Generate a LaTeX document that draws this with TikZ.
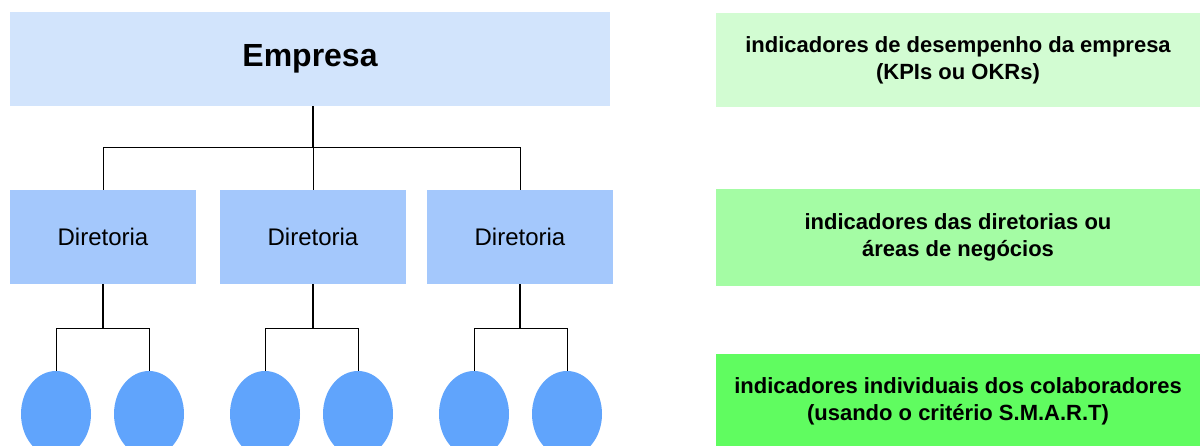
\documentclass[tikz,border=0pt]{standalone}
\usepackage{fontspec}
\setmainfont{Liberation Sans}
\usetikzlibrary{shapes.geometric}

\definecolor{empblue}{HTML}{D2E4FC}
\definecolor{dirblue}{HTML}{A4C8FC}
\definecolor{colblue}{HTML}{60A4FC}
\definecolor{kpigreen}{HTML}{D2FCD2}
\definecolor{dirgreen}{HTML}{A4FCA4}
\definecolor{colgreen}{HTML}{60FC60}

\tikzset{
  orgbox/.style={rectangle, draw=none, inner sep=0pt, minimum height=94pt},
  colab/.style={ellipse, fill=colblue, draw=none, minimum width=70pt, minimum height=86pt},
  indbox/.style={rectangle, draw=none, inner sep=0pt, minimum width=484pt,
    align=center, font=\fontsize{22}{27}\selectfont\bfseries},
  link/.style={draw=black, line width=1pt}
}

\begin{document}
\begin{tikzpicture}[x=1pt,y=-1pt]

  \clip (0,0) rectangle (1200,445);
  \fill[white] (0,0) rectangle (1200,445);

%%%%%%%%%%%%%%%%%%%%%%%%%%%%%%%%%%%%%%%%%%
  % Company and board levels
  \node[orgbox, fill=empblue, minimum width=600pt, font=\fontsize{32}{38}\selectfont\bfseries]
    (emp) at (310,59) {Empresa};

  \node[orgbox, fill=dirblue, minimum width=186pt, font=\fontsize{24}{28}\selectfont]
    (dir1) at (103,237) {Diretoria};
  \node[orgbox, fill=dirblue, minimum width=186pt, font=\fontsize{24}{28}\selectfont]
    (dir2) at (313,237) {Diretoria};
  \node[orgbox, fill=dirblue, minimum width=186pt, font=\fontsize{24}{28}\selectfont]
    (dir3) at (520,237) {Diretoria};

  % Tree from the company to the boards
  \draw[link] (dir2.north) -- ++(0,-42) coordinate (top);
  \draw[link, line width=1.6pt] (top) -- (top |- emp.south);
  \draw[link] (dir1.north) |- (top) -| (dir3.north);

%%%%%%%%%%%%%%%%%%%%%%%%%%%%%%%%%%%%%%%%%%
  % Collaborators
  \node[colab] (col11) at (56,414) {};
  \node[colab] (col12) at (149,414) {};
  \node[colab] (col21) at (265,414) {};
  \node[colab] (col22) at (358,414) {};
  \node[colab] (col31) at (474,414) {};
  \node[colab] (col32) at (567,414) {};

  % Tree from each board to its collaborators
  \draw[link, line width=1.4pt] (dir1.south) -- ++(0,44) coordinate (fork1);
  \draw[link] (col11.north) |- (fork1) -| (col12.north);

  \draw[link, line width=1.4pt] (dir2.south) -- ++(0,44) coordinate (fork2);
  \draw[link] (col21.north) |- (fork2) -| (col22.north);

  \draw[link, line width=1.4pt] (dir3.south) -- ++(0,44) coordinate (fork3);
  \draw[link] (col31.north) |- (fork3) -| (col32.north);

%%%%%%%%%%%%%%%%%%%%%%%%%%%%%%%%%%%%%%%%%%
  % Indicators on the right
  \node[indbox, fill=kpigreen, minimum height=94pt] (ind1) at (958,60)
    {indicadores de desempenho da empresa\\(KPIs ou OKRs)};
  \node[indbox, fill=dirgreen, minimum height=97pt] (ind2) at (958,237.5)
    {indicadores das diretorias ou\\áreas de negócios};
  \node[indbox, fill=colgreen, minimum height=94pt] (ind3) at (958,401)
    {indicadores individuais dos colaboradores\\(usando o critério S.M.A.R.T)};

\end{tikzpicture}
\end{document}
